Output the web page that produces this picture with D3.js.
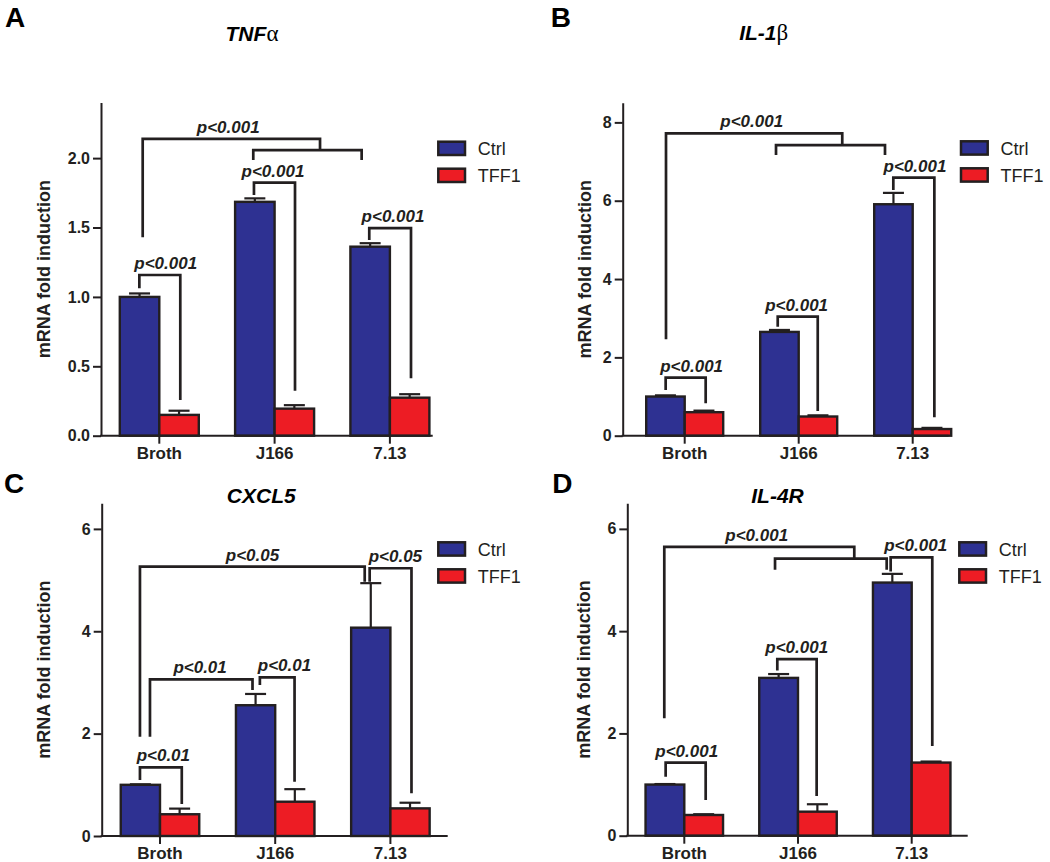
<!DOCTYPE html>
<html>
<head>
<meta charset="utf-8">
<script src="https://cdn.jsdelivr.net/npm/d3@7"></script>
<style>
  html, body { margin: 0; padding: 0; background: #fff; }
  svg { display: block; font-family: "Liberation Sans", Arial, sans-serif; }
</style>
</head>
<body>
<script>
// ---------------- DATA ----------------
const categories = ["Broth", "J166", "7.13"];
const series = ["Ctrl", "TFF1"];

// A: TNFα
const tnfCtrl = [1.0, 1.685, 1.362];
const tnfCtrlErr = [0.025, 0.025, 0.025];
const tnfTff1 = [0.15, 0.195, 0.274];
const tnfTff1Err = [0.03, 0.025, 0.025];
const tnfTicks = [0, 0.5, 1.0, 1.5, 2.0];
const tnfMax = 2.4;

// B: IL-1β
const il1Ctrl = [1.0, 2.65, 5.91];
const il1CtrlErr = [0.03, 0.05, 0.29];
const il1Tff1 = [0.6, 0.49, 0.17];
const il1Tff1Err = [0.04, 0.03, 0.03];
const il1Ticks = [0, 2, 4, 6, 8];
const il1Max = 8.5;

// C: CXCL5
const cxclCtrl = [1.0, 2.555, 4.07];
const cxclCtrlErr = [0.01, 0.22, 0.87];
const cxclTff1 = [0.425, 0.67, 0.54];
const cxclTff1Err = [0.11, 0.245, 0.11];
const cxclTicks = [0, 2, 4, 6];
const cxclMax = 6.5;

// D: IL-4R
const il4Ctrl = [1.0, 3.086, 4.95];
const il4CtrlErr = [0.01, 0.075, 0.17];
const il4Tff1 = [0.405, 0.47, 1.43];
const il4Tff1Err = [0.015, 0.145, 0.02];
const il4Ticks = [0, 2, 4, 6];
const il4Max = 6.5;

// significance brackets (x in category-index units, y in data units)
const tnfBrackets = [
  {x1:-0.173, y1:1.062, top:1.158, x2:0.182, y2:0.257, label:"p<0.001", lx:0.056},
  {x1:0.821, y1:1.734, top:1.823, x2:1.177, y2:0.324, label:"p<0.001", lx:0.986},
  {x1:1.821, y1:1.41, top:1.496, x2:2.183, y2:0.414, label:"p<0.001", lx:2.027},
  {group:true, x1:-0.144, y1:1.43, top:2.138, xj:1.394, ys:2.058, xs1:0.815, xs2:1.755, ye:1.986, label:"p<0.001", lx:0.598}
];
const il1Brackets = [
  {x1:-0.167, y1:1.167, top:1.481, x2:0.184, y2:0.827, label:"p<0.001", lx:0.061},
  {x1:0.816, y1:2.783, top:3.038, x2:1.167, y2:0.631, label:"p<0.001", lx:0.982},
  {x1:1.83, y1:6.273, top:6.587, x2:2.19, y2:0.47, label:"p<0.001", lx:2.02},
  {group:true, x1:-0.164, y1:2.461, top:7.72, xj:1.382, ys:7.42, xs1:0.801, xs2:1.757, ye:7.17, label:"p<0.001", lx:0.588}
];
const cxclBrackets = [
  {x1:-0.174, y1:1.094, top:1.342, x2:0.189, y2:0.625, label:"p<0.01", lx:0.029},
  {x1:0.867, y1:2.95, top:3.10, x2:1.168, y2:1.061, label:"p<0.01", lx:1.081},
  {x1:-0.087, y1:1.94, top:3.06, x2:0.803, y2:2.853, label:"p<0.01", lx:0.348},
  {x1:-0.174, y1:1.94, top:5.262, x2:1.777, y2:4.969, label:"p<0.05", lx:0.803},
  {x1:1.82, y1:4.969, top:5.231, x2:2.183, y2:0.834, label:"p<0.05", lx:2.043}
];
const il4Brackets = [
  {x1:-0.164, y1:1.155, top:1.429, x2:0.188, y2:0.699, label:"p<0.001", lx:0.021},
  {x1:0.818, y1:3.23, top:3.453, x2:1.164, y2:0.777, label:"p<0.001", lx:0.989},
  {x1:1.815, y1:5.168, top:5.442, x2:2.181, y2:1.756, label:"p<0.001", lx:2.035},
  {group:true, x1:-0.176, y1:2.298, top:5.646, xj:1.495, ys:5.417, xs1:0.798, xs2:1.78, ye:5.2, label:"p<0.001", lx:0.637}
];

const yTitle = "mRNA fold induction";

// ---------------- LAYOUT ----------------
const panels = [
  {letter:"A", title:["TNF","α"], ctrl:tnfCtrl, ctrlErr:tnfCtrlErr, tff:tnfTff1, tffErr:tnfTff1Err,
   ticks:tnfTicks, ymax:tnfMax, fmt:d3.format(".1f"), brackets:tnfBrackets,
   axisX:101, baseY:435.7, topY:102.6, xEnd:432.7, c0:159.3, step:115.3, bw:79,
   titleX:252, titleY:41, letterX:5, letterY:27, legX:438.3, legY:141.7, ytX:50},
  {letter:"B", title:["IL-1","β"], ctrl:il1Ctrl, ctrlErr:il1CtrlErr, tff:il1Tff1, tffErr:il1Tff1Err,
   ticks:il1Ticks, ymax:il1Max, fmt:d3.format("d"), brackets:il1Brackets,
   axisX:622.7, baseY:435.7, topY:102.8, xEnd:948.5, c0:684.7, step:114, bw:77,
   titleX:763.7, titleY:40, letterX:550.7, letterY:27, legX:961, legY:141.3, ytX:590.5},
  {letter:"C", title:["CXCL5",""], ctrl:cxclCtrl, ctrlErr:cxclCtrlErr, tff:cxclTff1, tffErr:cxclTff1Err,
   ticks:cxclTicks, ymax:cxclMax, fmt:d3.format("d"), brackets:cxclBrackets,
   axisX:101.7, baseY:836, topY:503.3, xEnd:447.7, c0:160, step:115.2, bw:78.5,
   titleX:261.3, titleY:503.3, letterX:4, letterY:493.3, legX:438.3, legY:542.3, ytX:50},
  {letter:"D", title:["IL-4R",""], ctrl:il4Ctrl, ctrlErr:il4CtrlErr, tff:il4Tff1, tffErr:il4Tff1Err,
   ticks:il4Ticks, ymax:il4Max, fmt:d3.format("d"), brackets:il4Brackets,
   axisX:627.3, baseY:835.7, topY:503.3, xEnd:967.7, c0:684.3, step:113.7, bw:77.5,
   titleX:777.5, titleY:503.3, letterX:552.3, letterY:493.3, legX:959.3, legY:542.3, ytX:590}
];

const INK = "#231f20";
const color = d3.scaleOrdinal().domain(series).range(["#2e3192", "#ed1c24"]);

const svg = d3.select("body").append("svg").attr("width", 1050).attr("height", 862);

panels.forEach(p => {
  const g = svg.append("g");
  const y = d3.scaleLinear().domain([0, p.ymax]).range([p.baseY, p.topY]);
  const pi = 1 - p.bw / p.step;
  const x0 = d3.scaleBand().domain(categories)
    .range([p.c0 - p.step / 2, p.c0 + p.step * 2.5])
    .paddingInner(pi).paddingOuter(pi / 2);
  const x1 = d3.scaleBand().domain(series).range([0, x0.bandwidth()]);
  const xi = d3.scaleLinear().domain([0, 1]).range([p.c0, p.c0 + p.step]);

  const rows = [];
  categories.forEach((c, i) => {
    rows.push({cat:c, s:"Ctrl", v:p.ctrl[i], e:p.ctrlErr[i]});
    rows.push({cat:c, s:"TFF1", v:p.tff[i], e:p.tffErr[i]});
  });

  // error bars (upper only)
  const eb = g.append("g").attr("stroke", INK).attr("stroke-width", 2.2);
  rows.forEach(r => {
    const cx = x0(r.cat) + x1(r.s) + x1.bandwidth() / 2;
    eb.append("line").attr("x1", cx).attr("x2", cx).attr("y1", y(r.v)).attr("y2", y(r.v + r.e));
    eb.append("line").attr("x1", cx - 10.5).attr("x2", cx + 10.5).attr("y1", y(r.v + r.e)).attr("y2", y(r.v + r.e));
  });

  // bars
  g.append("g").selectAll("rect").data(rows).join("rect")
    .attr("x", d => x0(d.cat) + x1(d.s))
    .attr("y", d => y(d.v))
    .attr("width", x1.bandwidth())
    .attr("height", d => y(0) - y(d.v))
    .attr("fill", d => color(d.s))
    .attr("stroke", INK).attr("stroke-width", 2.4);

  // y axis
  const ya = g.append("g").attr("transform", `translate(${p.axisX},0)`)
    .call(d3.axisLeft(y).tickValues(p.ticks).tickFormat(p.fmt).tickSize(8).tickPadding(3).tickSizeOuter(0));
  ya.select(".domain").attr("stroke", INK).attr("stroke-width", 2);
  ya.selectAll(".tick line").attr("stroke", INK).attr("stroke-width", 2);
  ya.selectAll(".tick text").attr("fill", INK).attr("font-size", 16).attr("font-weight", "bold")
    .attr("font-family", "Liberation Sans, Arial, sans-serif");

  // x axis
  const xa = g.append("g").attr("transform", `translate(0,${p.baseY})`)
    .call(d3.axisBottom(x0).tickSize(8).tickPadding(3).tickSizeOuter(0));
  xa.select(".domain").remove();
  xa.selectAll(".tick line").attr("stroke", INK).attr("stroke-width", 2);
  xa.selectAll(".tick text").attr("fill", INK).attr("font-size", 17).attr("font-weight", "bold")
    .attr("font-family", "Liberation Sans, Arial, sans-serif");
  g.append("line").attr("x1", p.axisX - 1).attr("x2", p.xEnd).attr("y1", p.baseY).attr("y2", p.baseY)
    .attr("stroke", INK).attr("stroke-width", 2);

  // y axis title
  g.append("text")
    .attr("transform", `translate(${p.ytX},${(p.baseY + p.topY) / 2}) rotate(-90)`)
    .attr("text-anchor", "middle").attr("font-size", 18).attr("font-weight", "bold")
    .attr("fill", INK).text(yTitle);

  // brackets
  const bg = g.append("g").attr("fill", "none").attr("stroke", INK).attr("stroke-width", 2.7);
  p.brackets.forEach(b => {
    let d;
    if (b.group) {
      d = `M${xi(b.x1)},${y(b.y1)}V${y(b.top)}H${xi(b.xj)}V${y(b.ys)}` +
          `M${xi(b.xs1)},${y(b.ye)}V${y(b.ys)}H${xi(b.xs2)}V${y(b.ye)}`;
    } else {
      d = `M${xi(b.x1)},${y(b.y1)}V${y(b.top)}H${xi(b.x2)}V${y(b.y2)}`;
    }
    bg.append("path").attr("d", d);
    g.append("text").attr("x", xi(b.lx)).attr("y", y(b.top) - 6)
      .attr("text-anchor", "middle").attr("font-size", 17).attr("font-weight", "bold")
      .attr("font-style", "italic").attr("fill", INK).text(b.label);
  });

  // legend
  series.forEach((s, i) => {
    const ly = p.legY + i * 27;
    g.append("rect").attr("x", p.legX).attr("y", ly).attr("width", 26.7).attr("height", 13.3)
      .attr("fill", color(s)).attr("stroke", INK).attr("stroke-width", 2.5);
    g.append("text").attr("x", p.legX + 39.4).attr("y", ly + 13.5)
      .attr("font-size", 18).attr("fill", INK).text(s);
  });

  // title
  const t = g.append("text").attr("x", p.titleX).attr("y", p.titleY).attr("text-anchor", "middle").attr("fill", "#000");
  t.append("tspan").attr("font-size", 21).attr("font-weight", "bold").attr("font-style", "italic").text(p.title[0]);
  if (p.title[1]) {
    t.append("tspan").attr("font-size", 23).attr("font-family", "Liberation Serif, Times New Roman, serif").text(p.title[1]);
  }

  // panel letter
  g.append("text").attr("x", p.letterX).attr("y", p.letterY).attr("font-size", 28)
    .attr("font-weight", "bold").attr("fill", "#000").text(p.letter);
});
</script>
</body>
</html>
